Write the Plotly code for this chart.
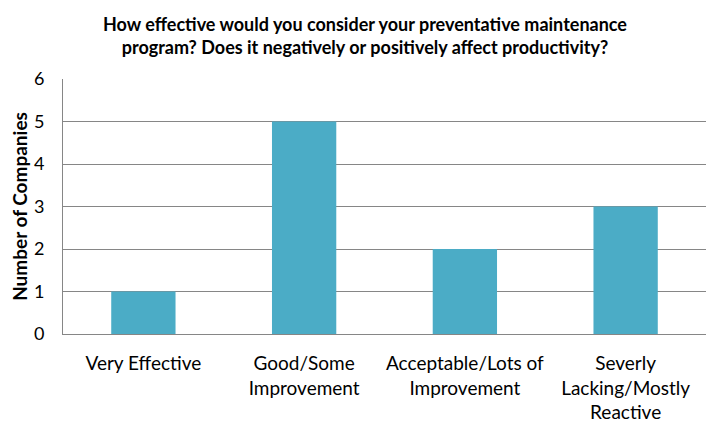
import plotly.graph_objects as go

categories = ["Very Effective", "Good/Some<br>Improvement", "Acceptable/Lots of<br>Improvement", "Severly<br>Lacking/Mostly<br>Reactive"]
values = [1, 5, 2, 3]
y_ticks = [0, 1, 2, 3, 4, 5, 6]

fig = go.Figure(go.Bar(x=categories, y=values, marker=dict(color="#4BACC6", line=dict(width=0)), width=0.4))

fig.update_layout(
    width=714, height=426,
    margin=dict(l=55, r=16, t=71, b=100),
    paper_bgcolor="white", plot_bgcolor="white",
    font=dict(family="Lato, Open Sans, sans-serif", size=18, color="#000000"),
    title=dict(
        text="<b>How effective would you consider your preventative maintenance<br>program? Does it negatively or positively affect productivity?</b>",
        x=0.5, xanchor="center", y=0.947, yanchor="middle",
        font=dict(size=18, family="Lato, Open Sans, sans-serif"),
    ),
    showlegend=False,
    bargap=0.6,
)
fig.update_yaxes(
    range=[0, 6], tickvals=y_ticks, showgrid=True, gridcolor="#868686", gridwidth=1,
    showline=True, linecolor="#868686", linewidth=1, zeroline=False,
    ticks="", ticklabelstandoff=14, automargin=False,
    title=dict(text="<b>Number of Companies</b>", font=dict(size=19), standoff=8),
)
fig.update_xaxes(showline=True, linecolor="#868686", linewidth=1, ticks="", ticklabelstandoff=12,
                 automargin=False, tickfont=dict(size=19))

fig.write_html("out.html")
